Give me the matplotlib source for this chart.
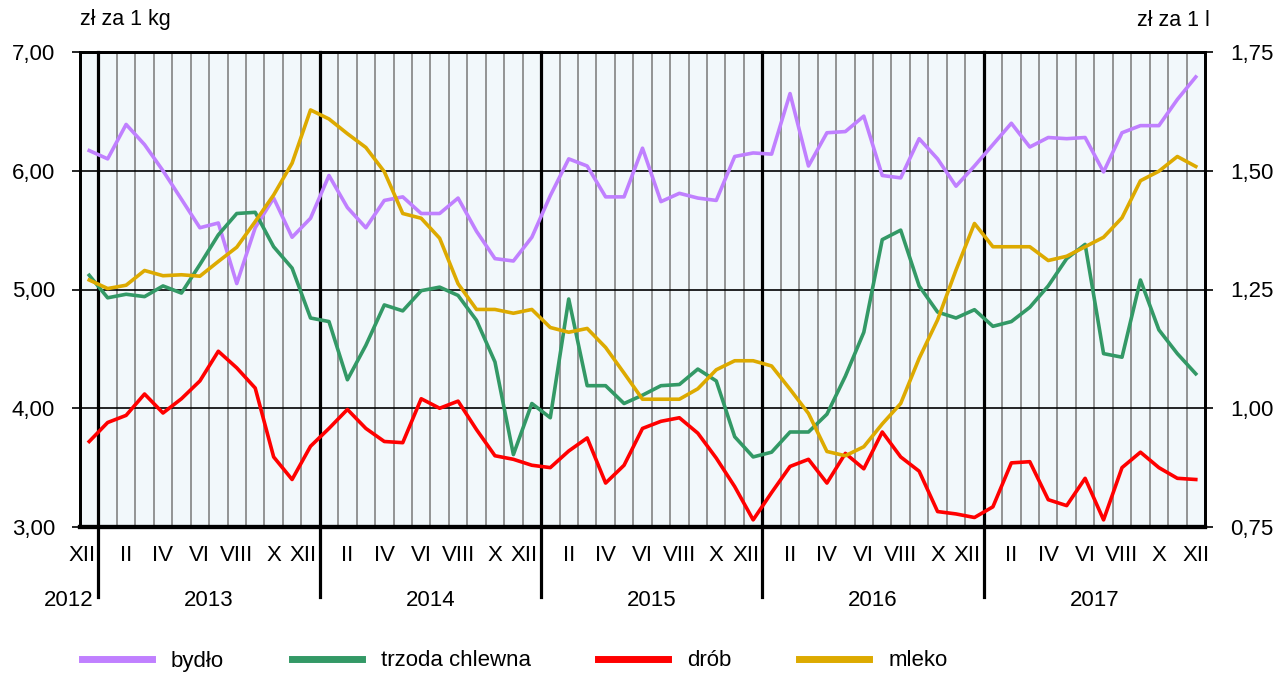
import matplotlib.pyplot as plt
import matplotlib.transforms as mtransforms
from matplotlib.lines import Line2D

plt.rcParams["font.family"] = ["Liberation Sans", "DejaVu Sans"]

# monthly prices XII 2012 .. XII 2017 (zl/kg, milk in zl/l)
bydlo = [6.17, 6.10, 6.39, 6.22, 6.00, 5.76, 5.52, 5.56, 5.05, 5.52, 5.77, 5.44, 5.60,
         5.96, 5.69, 5.52, 5.75, 5.78, 5.64, 5.64, 5.77, 5.49, 5.26, 5.24, 5.44,
         5.79, 6.10, 6.04, 5.78, 5.78, 6.19, 5.74, 5.81, 5.77, 5.75, 6.12, 6.15,
         6.14, 6.65, 6.04, 6.32, 6.33, 6.46, 5.96, 5.94, 6.27, 6.10, 5.87, 6.04,
         6.22, 6.40, 6.20, 6.28, 6.27, 6.28, 5.99, 6.32, 6.38, 6.38, 6.60, 6.79]
trzoda = [5.12, 4.93, 4.96, 4.94, 5.03, 4.97, 5.21, 5.46, 5.64, 5.65, 5.36, 5.18, 4.76,
          4.73, 4.24, 4.53, 4.87, 4.82, 4.99, 5.02, 4.95, 4.74, 4.39, 3.61, 4.04,
          3.92, 4.92, 4.19, 4.19, 4.04, 4.11, 4.19, 4.20, 4.33, 4.23, 3.76, 3.59,
          3.63, 3.80, 3.80, 3.95, 4.27, 4.64, 5.42, 5.50, 5.03, 4.81, 4.76, 4.83,
          4.69, 4.73, 4.85, 5.03, 5.26, 5.38, 4.46, 4.43, 5.08, 4.66, 4.46, 4.29]
drob = [3.72, 3.88, 3.94, 4.12, 3.96, 4.08, 4.23, 4.48, 4.34, 4.17, 3.59, 3.40, 3.68,
        3.83, 3.99, 3.83, 3.72, 3.71, 4.08, 4.00, 4.06, 3.82, 3.60, 3.57, 3.52,
        3.50, 3.64, 3.75, 3.37, 3.52, 3.83, 3.89, 3.92, 3.79, 3.58, 3.34, 3.06,
        3.29, 3.51, 3.57, 3.37, 3.62, 3.49, 3.80, 3.59, 3.47, 3.13, 3.11, 3.08,
        3.17, 3.54, 3.55, 3.23, 3.18, 3.41, 3.06, 3.50, 3.63, 3.50, 3.41, 3.40]
mleko = [1.270, 1.252, 1.259, 1.290, 1.279, 1.281, 1.278, 1.309, 1.339, 1.393, 1.449,
         1.516, 1.628, 1.609, 1.578, 1.549, 1.498, 1.410, 1.400, 1.358, 1.262, 1.208,
         1.208, 1.200, 1.208, 1.170, 1.160, 1.168, 1.128, 1.074, 1.019, 1.019, 1.019,
         1.041, 1.081, 1.100, 1.100, 1.089, 1.040, 0.989, 0.909, 0.900, 0.919, 0.967,
         1.010, 1.105, 1.186, 1.291, 1.389, 1.340, 1.340, 1.340, 1.311, 1.320, 1.340,
         1.360, 1.401, 1.479, 1.499, 1.530, 1.509]

month_labels = ["XII"] + ["II", "IV", "VI", "VIII", "X", "XII"] * 5
years = ["2012", "2013", "2014", "2015", "2016", "2017"]
left_ticks = [3, 4, 5, 6, 7]
right_ticks = [0.75, 1.00, 1.25, 1.50, 1.75]

C_BYDLO = "#c080ff"
C_TRZODA = "#339966"
C_DROB = "#ff0000"
C_MLEKO = "#ddaa00"

x = list(range(len(bydlo)))

fig = plt.figure(figsize=(12.76, 6.73), dpi=100)
ax = fig.add_axes([80 / 1276, 1 - 527 / 673, 1125 / 1276, 475 / 673])
ax.set_facecolor("#f2f8fb")
ax.set_xlim(-0.5, len(x) - 0.5)
ax.set_ylim(3, 7)

# month cells + horizontal grid
ax.set_xticks([i + 0.5 for i in x[:-1]], minor=True)
ax.grid(which="minor", axis="x", color="#8c8c8c", lw=1.3)
ax.set_yticks(left_ticks)
ax.set_yticklabels([f"{v:.2f}".replace(".", ",") for v in left_ticks])
ax.grid(which="major", axis="y", color="black", lw=1.2)
ax.set_axisbelow(True)

ax.set_xticks(x[::2])
ax.set_xticklabels(month_labels)
ax.tick_params(axis="x", which="both", length=0, pad=13, labelsize=16)
ax.tick_params(axis="y", length=6, width=1.2, pad=12, labelsize=16)

# XII labels sit just left of the year separator
shift = mtransforms.ScaledTranslation(0.06, 0, fig.dpi_scale_trans)
xlabels = ax.get_xticklabels()
for lab in xlabels[:-1]:
    if lab.get_text() == "XII":
        lab.set_horizontalalignment("right")
        lab.set_transform(lab.get_transform() + shift)

# year separators, reaching down through the labels
for b in range(0, len(x) - 1, 12):
    ax.axvline(b + 0.5, ymin=-0.148, ymax=1, color="black", lw=2.3, clip_on=False, zorder=1.5)

trans = mtransforms.blended_transform_factory(ax.transData, ax.transAxes)
year_x = [-1.1, 6.5, 18.5, 30.5, 42.5, 54.5]
for yx, yr in zip(year_x, years):
    ax.text(yx, -0.154, yr, transform=trans, ha="center", va="center", fontsize=16)

lw = 2.6
ax.plot(x, bydlo, color=C_BYDLO, lw=lw, zorder=3)
ax.plot(x, trzoda, color=C_TRZODA, lw=lw, zorder=3)
ax.plot(x, drob, color=C_DROB, lw=lw, zorder=3)

ax2 = ax.twinx()
ax2.set_ylim(0.75, 1.75)
ax2.set_yticks(right_ticks)
ax2.set_yticklabels([f"{v:.2f}".replace(".", ",") for v in right_ticks])
ax2.tick_params(axis="y", length=6, width=1.2, pad=12, labelsize=16)
ax2.plot(x, mleko, color=C_MLEKO, lw=lw, zorder=3)

for a in (ax, ax2):
    for s in a.spines.values():
        s.set_linewidth(2)
    a.spines["bottom"].set_linewidth(3)

fig.text(80 / 1276, 1 - 20 / 673, "zł za 1 kg", fontsize=15.5, va="center", ha="left")
fig.text(1210 / 1276, 1 - 20 / 673, "zł za 1 l", fontsize=15.5, va="center", ha="right")

handles = [Line2D([], [], color=c, lw=5) for c in (C_BYDLO, C_TRZODA, C_DROB, C_MLEKO)]
fig.legend(handles, ["bydło", "trzoda chlewna", "drób", "mleko"], ncol=4,
           loc="center left", bbox_to_anchor=(82 / 1276, 1 - 661 / 673),
           frameon=False, fontsize=16, handlelength=3.15, handletextpad=0.85,
           columnspacing=3.05, borderpad=0, borderaxespad=0)

fig.savefig("out.png", dpi=100)
